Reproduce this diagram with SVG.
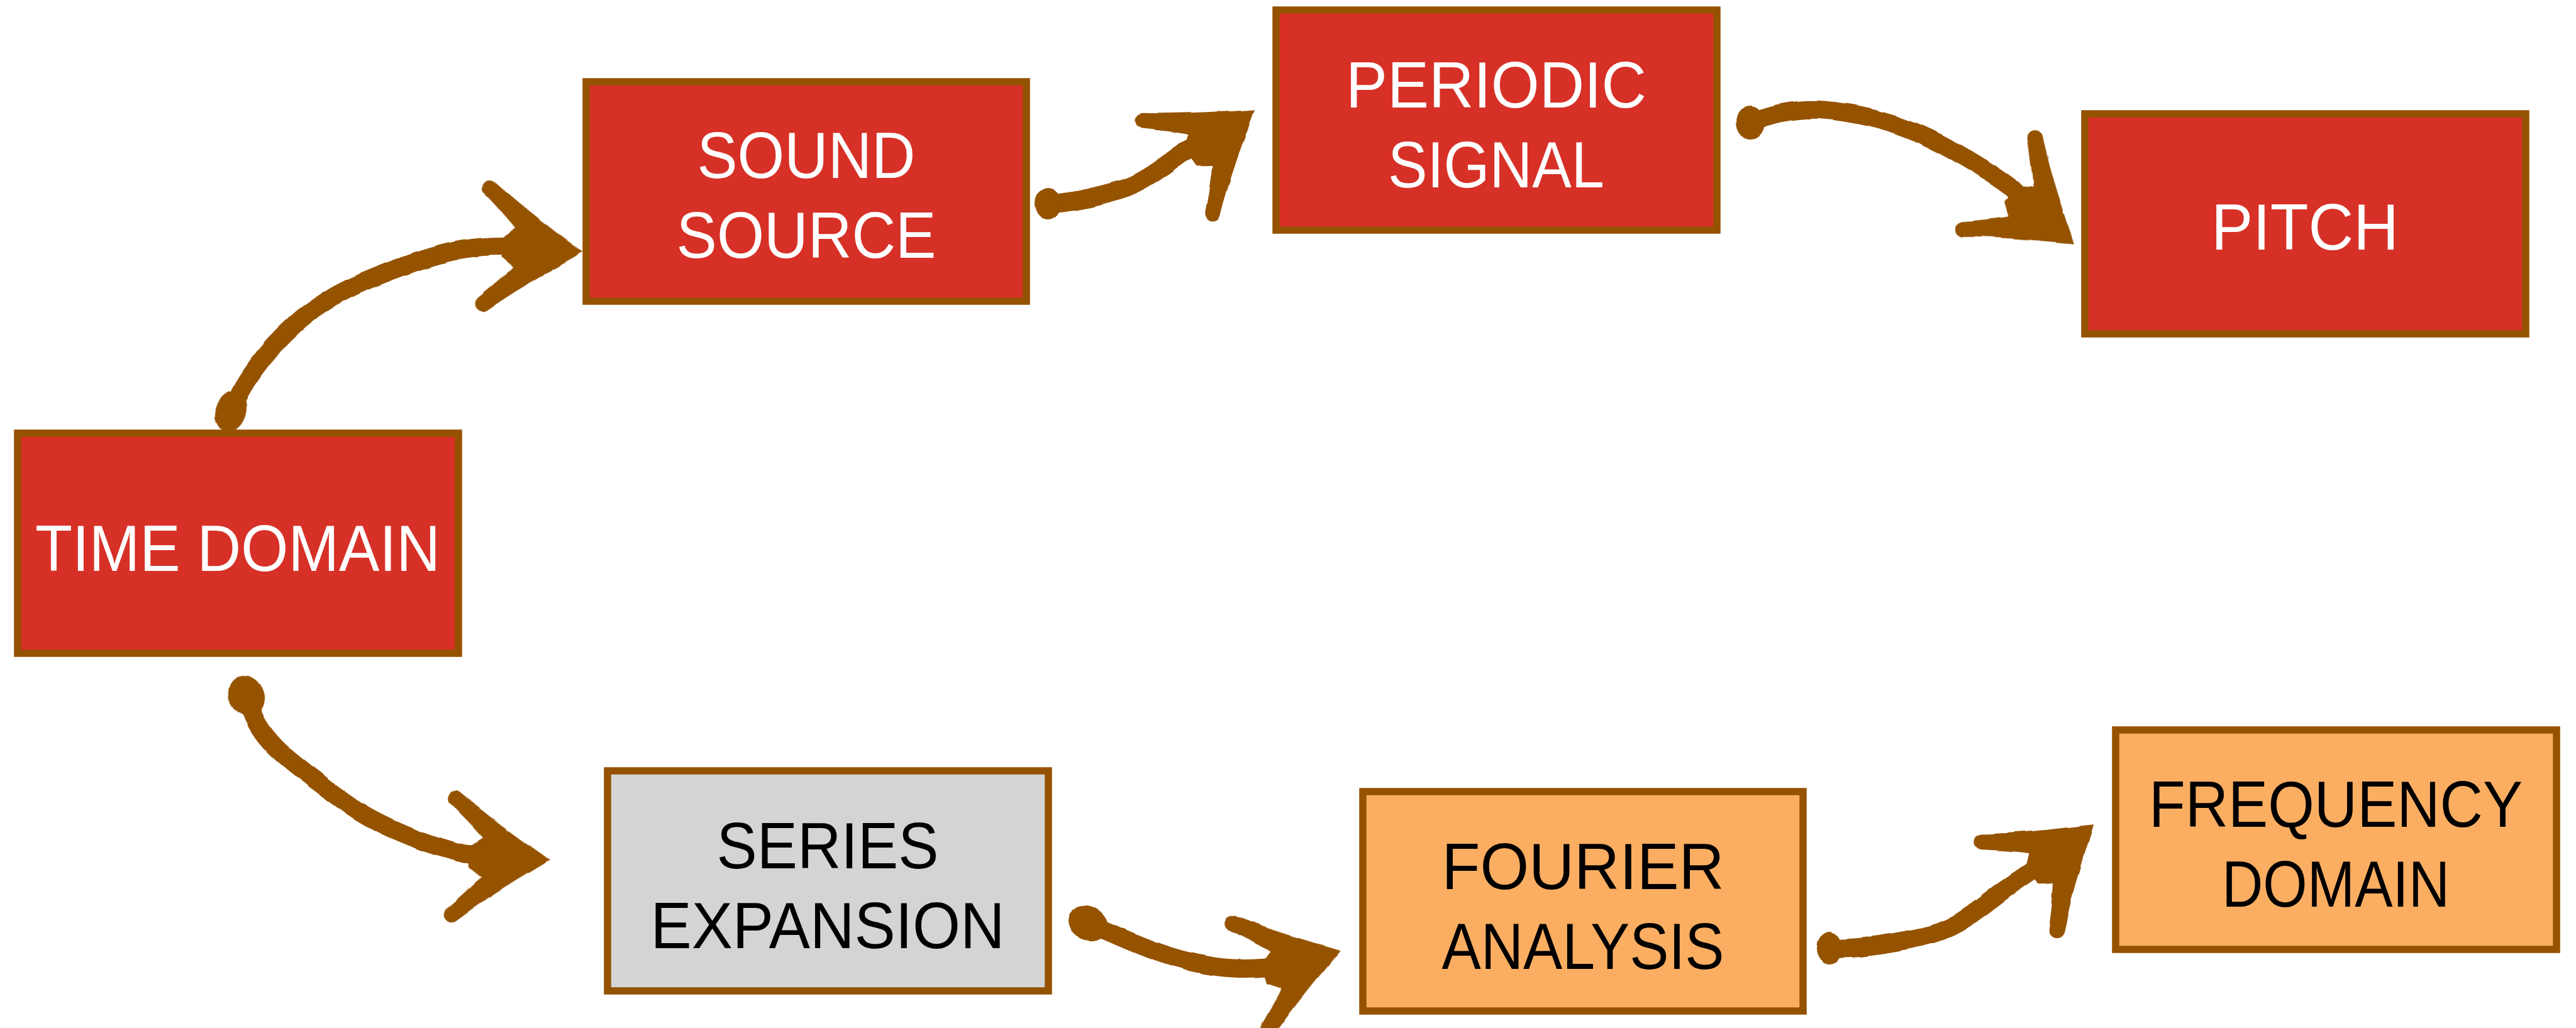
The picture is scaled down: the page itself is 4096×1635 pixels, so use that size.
<svg xmlns="http://www.w3.org/2000/svg" xmlns:xlink="http://www.w3.org/1999/xlink" width="4096" height="1635" viewBox="0 0 4096 1635">
<style>
.box{stroke:#955200;stroke-width:11.5}
.red{fill:#d73027}
.gray{fill:#d4d4d4}
.orange{fill:#fbae61}
.lbl{font-family:"Liberation Sans",Arial,sans-serif;font-size:103px;text-anchor:middle}
.w{fill:#ffffff}
.k{fill:#000000}
.shaft{fill:none;stroke:#955200;stroke-width:29;stroke-linecap:round;stroke-linejoin:round}
.ink{fill:#955200}
</style>
<defs>
<filter id="rough" x="-5%" y="-5%" width="110%" height="110%">
<feTurbulence type="fractalNoise" baseFrequency="0.02" numOctaves="2" seed="3"/>
<feDisplacementMap in="SourceGraphic" scale="6" xChannelSelector="R" yChannelSelector="G"/>
</filter>
<path id="head" class="ink" d="M 10,0 C -20,-20 -90,-64 -150,-112 C -164,-124 -182,-106 -169,-92 C -147,-72 -124,-50 -110,-34 L -132,-18 L -132,18 L -110,34 C -124,50 -147,72 -169,92 C -182,106 -164,124 -150,112 C -90,64 -20,20 10,0 Z"/>
</defs>
<rect width="4096" height="1635" fill="#ffffff"/>
<g id="connectors" filter="url(#rough)">
<g id="c-time-sound">
<path class="shaft" d="M 368,652 C 385,610 420,560 470,515 S 580,445 660,417 S 790,388 860,395"/>
<ellipse class="ink" cx="367" cy="654" rx="24" ry="33" transform="rotate(18 367 654)"/>
<use xlink:href="#head" href="#head" transform="translate(917,400) rotate(3.5) scale(0.9)"/>
</g>
<g id="c-sound-periodic">
<path class="shaft" d="M 1667,324 C 1705,322 1745,312 1780,302 S 1845,268 1880,243 L 1944,212"/>
<ellipse class="ink" cx="1667" cy="324" rx="21" ry="25"/>
<use xlink:href="#head" href="#head" transform="translate(1988,179) rotate(-37) scale(0.9)"/>
</g>
<g id="c-periodic-pitch">
<path class="shaft" d="M 2783,195 C 2820,180 2860,172 2900,175 S 3000,190 3050,212 S 3160,270 3200,300 L 3248,348"/>
<ellipse class="ink" cx="2783" cy="195" rx="23" ry="27"/>
<use xlink:href="#head" href="#head" transform="translate(3291,382) rotate(38.5) scale(0.9)"/>
</g>
<g id="c-time-series">
<path class="shaft" d="M 391,1103 C 400,1140 415,1165 440,1190 S 520,1255 560,1283 S 680,1345 740,1358 L 810,1365"/>
<ellipse class="ink" cx="392" cy="1107" rx="27" ry="33" transform="rotate(-25 392 1107)"/>
<use xlink:href="#head" href="#head" transform="translate(865,1367) rotate(2) scale(0.9)"/>
</g>
<g id="c-series-fourier">
<path class="shaft" d="M 1726,1467 C 1760,1480 1800,1500 1840,1514 S 1920,1538 1960,1540 S 2030,1538 2070,1530"/>
<ellipse class="ink" cx="1730" cy="1469" rx="33" ry="27" transform="rotate(25 1730 1469)"/>
<use xlink:href="#head" href="#head" transform="translate(2123,1514) rotate(-17) scale(0.9)"/>
</g>
<g id="c-fourier-frequency">
<path class="shaft" d="M 2909,1508 C 2950,1510 3000,1502 3056,1490 S 3140,1450 3187,1415 L 3279,1352"/>
<ellipse class="ink" cx="2909" cy="1508" rx="21" ry="25"/>
<use xlink:href="#head" href="#head" transform="translate(3321,1317) rotate(-40) scale(0.9)"/>
</g>
</g>
<g id="n-time-domain">
<rect class="box red" x="28" y="689" width="701" height="350"/>
<text class="lbl w" x="378" y="908" textLength="644" lengthAdjust="spacingAndGlyphs">TIME DOMAIN</text>
</g>
<g id="n-sound-source">
<rect class="box red" x="932" y="130" width="700" height="349"/>
<text class="lbl w" x="1282" y="283" textLength="347" lengthAdjust="spacingAndGlyphs">SOUND</text>
<text class="lbl w" x="1282" y="410" textLength="413" lengthAdjust="spacingAndGlyphs">SOURCE</text>
</g>
<g id="n-periodic-signal">
<rect class="box red" x="2029" y="16" width="701" height="350"/>
<text class="lbl w" x="2379" y="171" textLength="478" lengthAdjust="spacingAndGlyphs">PERIODIC</text>
<text class="lbl w" x="2379" y="298" textLength="344" lengthAdjust="spacingAndGlyphs">SIGNAL</text>
</g>
<g id="n-pitch">
<rect class="box red" x="3315" y="181" width="701" height="350"/>
<text class="lbl w" x="3665" y="397" textLength="298" lengthAdjust="spacingAndGlyphs">PITCH</text>
</g>
<g id="n-series-expansion">
<rect class="box gray" x="966" y="1226" width="701" height="350"/>
<text class="lbl k" x="1316" y="1381" textLength="353" lengthAdjust="spacingAndGlyphs">SERIES</text>
<text class="lbl k" x="1316" y="1508" textLength="563" lengthAdjust="spacingAndGlyphs">EXPANSION</text>
</g>
<g id="n-fourier-analysis">
<rect class="box orange" x="2167" y="1259" width="700" height="349"/>
<text class="lbl k" x="2517" y="1414" textLength="449" lengthAdjust="spacingAndGlyphs">FOURIER</text>
<text class="lbl k" x="2517" y="1541" textLength="449" lengthAdjust="spacingAndGlyphs">ANALYSIS</text>
</g>
<g id="n-frequency-domain">
<rect class="box orange" x="3364" y="1161" width="701" height="349"/>
<text class="lbl k" x="3714" y="1315" textLength="594" lengthAdjust="spacingAndGlyphs">FREQUENCY</text>
<text class="lbl k" x="3714" y="1442" textLength="362" lengthAdjust="spacingAndGlyphs">DOMAIN</text>
</g>
</svg>
